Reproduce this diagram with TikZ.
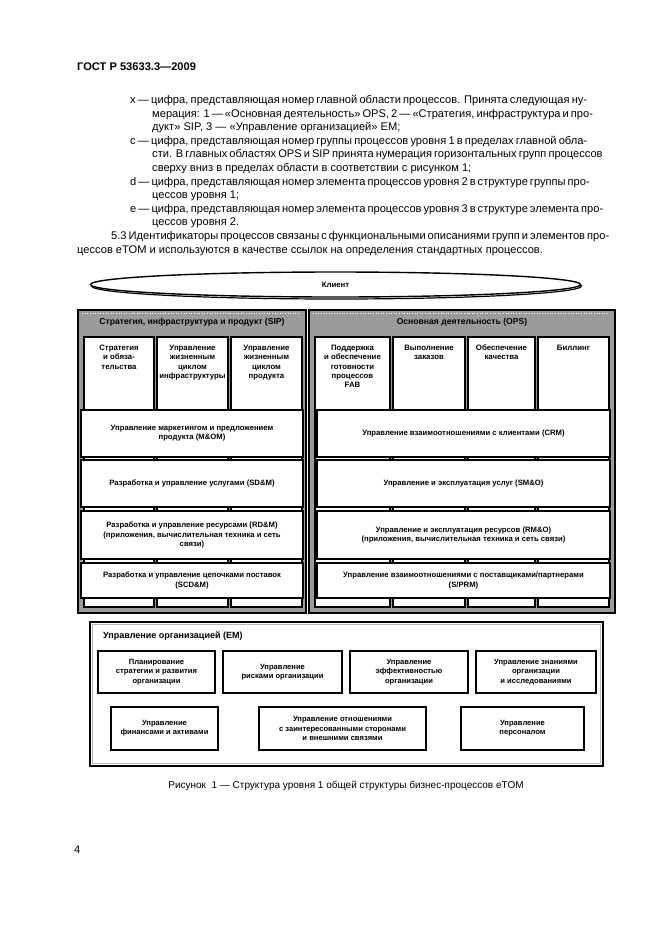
\documentclass[tikz,border=0pt]{standalone}
\usepackage{fontspec}
\setmainfont{Liberation Sans}
\usetikzlibrary{shapes.geometric}
\definecolor{secgray}{RGB}{155,155,155}
\newcommand\Ln[3]{\moveright#1pt\hbox to #2pt{#3}}
\newcommand\Lz[3]{\moveright#1pt\hbox to #2pt{#3\hfil}}
\newcommand\mybox[7]{\node[#1, minimum width={#5-#3}, minimum height={#6-#4}] (#2) at ({(#3+#5)/2},{(#4+#6)/2}) {#7};}
\newcommand\ctab[1]{\begin{tabular}[t]{@{}c@{}}#1\end{tabular}}
\newcommand\rowfnt{\fontsize{7.7}{9.2}\selectfont\bfseries}
\newcommand\colfnt{\fontsize{7.8}{9.4}\selectfont\bfseries}
\newcommand\hdrfnt{\fontsize{8.6}{10}\selectfont\bfseries}
\newcommand\emfnt{\fontsize{7.6}{9.2}\selectfont\bfseries}
\begin{document}
\begin{tikzpicture}[x=1pt,y=-1pt,
  sect/.style={draw=black, line width=1.6pt, fill=secgray, inner sep=0pt},
  colbox/.style={draw=black, line width=1.5pt, fill=white, inner sep=0pt},
  coltext/.style={anchor=base, font=\colfnt, inner sep=0pt},
  rowbox/.style={draw=black, line width=1.5pt, fill=white, align=center, font=\rowfnt, inner sep=0pt},
  hdr/.style={font=\hdrfnt, inner sep=0pt},
  emouter/.style={draw=black, line width=1.8pt, fill=white, inner sep=0pt},
  embox/.style={draw=black, line width=1.9pt, fill=white, align=center, font=\emfnt, inner sep=0pt},
  texture/.style={white, dotted, line width=0.6pt}]
\useasboundingbox[fill=white] (0,0) rectangle (661,935);

% ---------- page text ----------
\node[anchor=base west, inner sep=0pt, font=\fontsize{11.1}{13.6}\selectfont\bfseries] (gost) at (77,70) {ГОСТ Р 53633.3—2009};
\node[anchor=base west, inner sep=0pt] (body) at (77,103.5) {\fontsize{11.1}{13.6}\selectfont
\vtop{\baselineskip=13.6pt
\Ln{53}{457}{x — цифра, представляющая номер главной области процессов. Принята следующая ну-}
\Ln{75}{435}{мерация: 1 — «Основная деятельность» OPS, 2 — «Стратегия, инфраструктура и про-}
\Lz{75}{435}{дукт» SIP, 3 — «Управление организацией» EM;}
\Ln{53}{457}{c — цифра, представляющая номер группы процессов уровня 1 в пределах главной обла-}
\Ln{75}{435}{сти. В главных областях OPS и SIP принята нумерация горизонтальных групп процессов}
\Lz{75}{435}{сверху вниз в пределах области в соответствии с рисунком 1;}
\Ln{53}{457}{d — цифра, представляющая номер элемента процессов уровня 2 в структуре группы про-}
\Lz{75}{435}{цессов уровня 1;}
\Ln{53}{457}{e — цифра, представляющая номер элемента процессов уровня 3 в структуре элемента про-}
\Lz{75}{435}{цессов уровня 2.}
\Ln{34}{476}{5.3 Идентификаторы процессов связаны с функциональными описаниями групп и элементов про-}
\Lz{0}{510}{цессов eTOM и используются в качестве ссылок на определения стандартных процессов.}
}};

% ---------- client ellipse ----------
\node[ellipse, draw=black, line width=1.2pt, minimum width=490, minimum height=26, inner sep=0pt] (clientsh) at (336.5,286) {};
\node[ellipse, draw=black, line width=1.4pt, fill=white, minimum width=490, minimum height=25, inner sep=0pt, font=\fontsize{7.8}{9}\selectfont\bfseries] (client) at (335.5,284.5) {Клиент};

% ---------- SIP ----------
\mybox{sect}{sip}{78}{310}{306}{613}{}
\draw[texture] (sip.north west) ++(5,4) -- ++(218,0);
\node[hdr] (siph) at (192,322.5) {Стратегия, инфраструктура и продукт (SIP)};
\mybox{colbox}{s1}{84}{337}{154}{607}{}
\mybox{colbox}{s2}{157}{337}{228}{607}{}
\mybox{colbox}{s3}{231}{337}{302}{607}{}
\node[coltext] (s1t) at ([yshift=-14pt]s1.north) {\ctab{Стратегия\\и обяза-\\тельства}};
\node[coltext] (s2t) at ([yshift=-14pt]s2.north) {\ctab{Управление\\жизненным\\циклом\\инфраструктуры}};
\node[coltext] (s3t) at ([yshift=-14pt]s3.north) {\ctab{Управление\\жизненным\\циклом\\продукта}};
\mybox{rowbox}{sr1}{81}{410}{303}{457}{Управление маркетингом и предложением\\продукта (M\&OM)}
\mybox{rowbox}{sr2}{81}{460}{303}{507}{Разработка и управление услугами (SD\&M)}
\mybox{rowbox}{sr3}{81}{511}{303}{559}{Разработка и управление ресурсами (RD\&M)\\(приложения, вычислительная техника и сеть\\связи)}
\mybox{rowbox}{sr4}{81}{563}{303}{598}{Разработка и управление цепочками поставок\\(SCD\&M)}

% ---------- OPS ----------
\mybox{sect}{ops}{309}{310}{615}{613}{}
\draw[texture] (ops.north west) ++(5,4) -- ++(296,0);
\node[hdr] (opsh) at (462,322.5) {Основная деятельность (OPS)};
\mybox{colbox}{o1}{315}{337}{390}{607}{}
\mybox{colbox}{o2}{393}{337}{465}{607}{}
\mybox{colbox}{o3}{468}{337}{535}{607}{}
\mybox{colbox}{o4}{538}{337}{609}{607}{}
\node[coltext] (o1t) at ([yshift=-14pt]o1.north) {\ctab{Поддержка\\и обеспечение\\готовности\\процессов\\FAB}};
\node[coltext] (o2t) at ([yshift=-14pt]o2.north) {\ctab{Выполнение\\заказов}};
\node[coltext] (o3t) at ([yshift=-14pt]o3.north) {\ctab{Обеспечение\\качества}};
\node[coltext] (o4t) at ([yshift=-14pt]o4.north) {\ctab{Биллинг}};
\mybox{rowbox}{or1}{317}{410}{610}{457}{Управление взаимоотношениями с клиентами (CRM)}
\mybox{rowbox}{or2}{317}{460}{610}{507}{Управление и эксплуатация услуг (SM\&O)}
\mybox{rowbox}{or3}{317}{511}{610}{559}{Управление и эксплуатация ресурсов (RM\&O)\\(приложения, вычислительная техника и сеть связи)}
\mybox{rowbox}{or4}{317}{563}{610}{598}{Управление взаимоотношениями с поставщиками/партнерами\\(S/PRM)}

% ---------- EM ----------
\mybox{emouter}{em}{90}{622}{603}{766}{}
\draw[gray!55, line width=0.8pt] ([shift={(3.5,3.5)}]em.north west) rectangle ([shift={(-3.5,-3.5)}]em.south east);
\node[anchor=west, inner sep=0pt, font=\fontsize{9}{10}\selectfont\bfseries] (emt) at (103,636) {Управление организацией (EM)};
\mybox{embox}{e1}{98}{651}{215}{693}{Планирование\\стратегии и развития\\организации}
\mybox{embox}{e2}{223}{651}{342}{693}{Управление\\рисками организации}
\mybox{embox}{e3}{350}{651}{468}{693}{Управление\\эффективностью\\организации}
\mybox{embox}{e4}{476}{651}{596}{693}{Управление знаниями\\организации\\и исследованиями}
\mybox{embox}{e5}{111}{707}{218}{750}{Управление\\финансами и активами}
\mybox{embox}{e6}{259}{707}{426}{750}{Управление отношениями\\с заинтересованными сторонами\\и внешними связями}
\mybox{embox}{e7}{461}{707}{584}{750}{Управление\\персоналом}

% ---------- caption and page number ----------
\node[anchor=base, inner sep=0pt, font=\fontsize{10}{12}\selectfont] (cap) at (346,788.5) {Рисунок\ \ 1 — Структура уровня 1 общей структуры бизнес-процессов eTOM};
\node[anchor=base west, inner sep=0pt, font=\fontsize{11.1}{13}\selectfont] (pageno) at (74,853) {4};
\end{tikzpicture}
\end{document}
